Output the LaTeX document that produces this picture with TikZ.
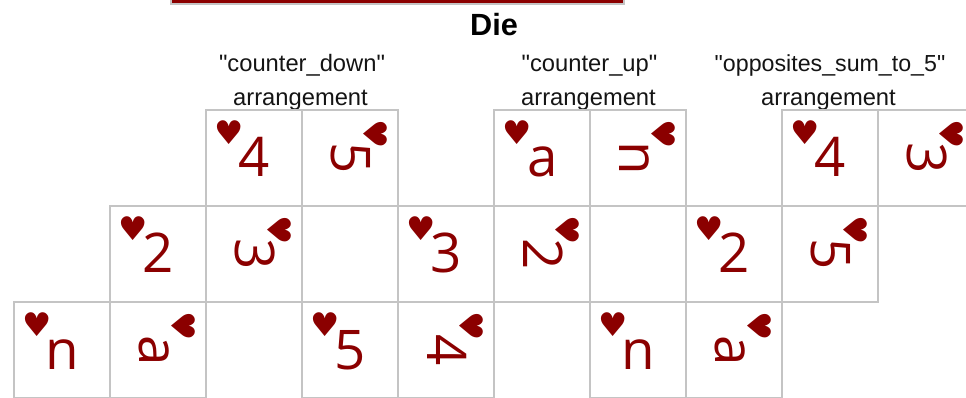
\documentclass[tikz,border=0pt]{standalone}
\usepackage{fontspec}
\setmainfont{Liberation Sans}
\newfontfamily\plainsans{Liberation Sans}
\newfontfamily\dejavu{DejaVu Sans}
\newfontfamily\facefont{Open Sans}
\definecolor{dred}{HTML}{8B0000}
\definecolor{cellgrey}{HTML}{C4C4C4}
\tikzset{
  px/.style={x=0.75pt,y=-0.75pt},
  tile/.style={draw=cellgrey,line width=1.2pt,fill=white,minimum size=72pt,inner sep=0pt,outer sep=0pt},
  bar/.style={draw=cellgrey,line width=1.2pt,fill=dred},
  caption/.style={font=\fontsize{17.8}{25}\plainsans\selectfont,text=black!92,align=center,anchor=base,inner sep=0pt},
  longcaption/.style={caption,font=\fontsize{17.4}{25}\plainsans\selectfont},
  heading/.style={font=\fontsize{23}{27}\selectfont\bfseries,anchor=base,inner sep=0pt},
  face/.style={font=\fontsize{41}{45}\facefont\selectfont,text=dred,anchor=base,inner sep=0pt},
  suit/.style={font=\fontsize{24.5}{27}\dejavu\selectfont,text=dred,inner sep=0pt},
}
% name, left x, top y, upright face, turned face
\newcommand{\domino}[5]{%
  \node[tile,anchor=north west] (#1a) at (#2,#3) {};
  \node[tile,anchor=north west] (#1b) at (#2+96,#3) {};
  \node[face] (#1af) at ([xshift=0.4pt,yshift=-14.25pt]#1a.center) {#4};
  \node[suit] (#1as) at ([xshift=-18.6pt,yshift=19pt]#1a.center) {♥};
  \node[face,rotate=-90] (#1bf) at ([xshift=-14.25pt,yshift=-0.4pt]#1b.center) {#5};
  \node[suit,rotate=-90] (#1bs) at ([xshift=19.3pt,yshift=18pt]#1b.center) {♥};
}
\begin{document}
\begin{tikzpicture}[px]
\useasboundingbox (0,0) rectangle (966,398);
\clip (0,0) rectangle (966,398);
\draw[bar] (171,-10) rectangle (624,4);
\node[heading] (die) at (494,36) {Die};
\node[caption] (c1t) at (302,72) {"counter\_down"};
\node[caption] (c1b) at (300.5,106) {arrangement};
\node[caption] (c2t) at (589.5,72) {"counter\_up"};
\node[caption] (c2b) at (588.5,106) {arrangement};
\node[longcaption] (c3t) at (830,72) {"opposites\_sum\_to\_5"};
\node[caption] (c3b) at (828.5,106) {arrangement};
\domino{ta}{206}{110}{4}{5}
\domino{tb}{494}{110}{a}{n}
\domino{tc}{782}{110}{4}{3}
\domino{ma}{110}{206}{2}{3}
\domino{mb}{398}{206}{3}{2}
\domino{mc}{686}{206}{2}{5}
\domino{ba}{14}{302}{n}{a}
\domino{bb}{302}{302}{5}{4}
\domino{bc}{590}{302}{n}{a}
\end{tikzpicture}
\end{document}
